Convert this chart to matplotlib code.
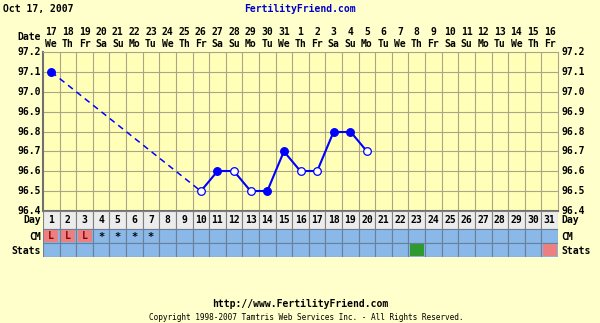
import matplotlib.pyplot as plt
from matplotlib.patches import Rectangle

# chart data
cycle_days = list(range(1, 32))
date_nums = [17, 18, 19, 20, 21, 22, 23, 24, 25, 26, 27, 28, 29, 30, 31,
             1, 2, 3, 4, 5, 6, 7, 8, 9, 10, 11, 12, 13, 14, 15, 16]
weekdays = ["We", "Th", "Fr", "Sa", "Su", "Mo", "Tu", "We", "Th", "Fr", "Sa",
            "Su", "Mo", "Tu", "We", "Th", "Fr", "Sa", "Su", "Mo", "Tu", "We",
            "Th", "Fr", "Sa", "Su", "Mo", "Tu", "We", "Th", "Fr"]
temp_days = [1, 10, 11, 12, 13, 14, 15, 16, 17, 18, 19, 20]
temps = [97.1, 96.5, 96.6, 96.6, 96.5, 96.5, 96.7, 96.6, 96.6, 96.8, 96.8, 96.7]
filled = [True, False, True, False, False, True, True, False, False, True, True, False]
cm_marks = ["L", "L", "L", "*", "*", "*", "*"]
stats_green = [23]
stats_pink = [31]
y_ticks = [96.4, 96.5, 96.6, 96.7, 96.8, 96.9, 97.0, 97.1, 97.2]

W, H = 600, 323
bg = "#ffffcc"
plot_bg = "#ffffb8"
grid_c = "#aaa488"
blue = "#0000ff"
row_blue = "#8ab8e8"
pink = "#ec8080"
mono = "DejaVu Sans Mono"
fs = 7

fig = plt.figure(figsize=(W / 100, H / 100), dpi=100, facecolor=bg)

x0, x1 = 43, 558
y_top, y_bot = 52, 211
ax = fig.add_axes([x0 / W, 1 - y_bot / H, (x1 - x0) / W, (y_bot - y_top) / H])
ax.set_facecolor(plot_bg)
ax.set_xlim(0.5, 31.5)
ax.set_ylim(96.4, 97.2)
for d in range(1, 31):
    ax.axvline(d + 0.5, color=grid_c, lw=0.8, zorder=1)
for t in y_ticks[1:-1]:
    ax.axhline(t, color=grid_c, lw=0.8, zorder=1)
ax.set_xticks([])
ax.set_yticks([])
for s in ax.spines.values():
    s.set_color(grid_c)
ax.spines["left"].set_color("#707070")
ax.spines["left"].set_linewidth(1.5)
ax.spines["bottom"].set_color("#707070")
ax.spines["bottom"].set_linewidth(1.5)

# lines: dashed across gaps, solid on consecutive days
for i in range(len(temp_days) - 1):
    xs = temp_days[i:i + 2]
    ys = temps[i:i + 2]
    style = "-" if xs[1] - xs[0] == 1 else (0, (4, 3))
    lw = 1.5 if style == "-" else 1.1
    ax.plot(xs, ys, color=blue, lw=lw, ls=style, zorder=2)
for d, t, f in zip(temp_days, temps, filled):
    ax.plot(d, t, "o", ms=5.5, mec=blue, mfc=blue if f else "white", mew=0.9, zorder=3)

# tick labels
for t in y_ticks:
    yp = y_bot - (t - 96.4) / 0.8 * (y_bot - y_top)
    fig.text(41 / W, 1 - yp / H, f"{t:.1f}", ha="right", va="center",
             family=mono, weight="bold", fontsize=fs)
    fig.text(561 / W, 1 - yp / H, f"{t:.1f}", ha="left", va="center",
             family=mono, weight="bold", fontsize=fs)

col_w = (x1 - x0) / 31
for i, (n, wd) in enumerate(zip(date_nums, weekdays)):
    xc = x0 + (i + 0.5) * col_w
    fig.text(xc / W, 1 - 32 / H, str(n), ha="center", va="center",
             family=mono, weight="bold", fontsize=fs)
    fig.text(xc / W, 1 - 44 / H, wd, ha="center", va="center",
             family=mono, weight="bold", fontsize=fs)
fig.text(41 / W, 1 - 37 / H, "Date", ha="right", va="center",
         family=mono, weight="bold", fontsize=fs)

# lower table: Day / CM / Stats rows
tb = fig.add_axes([x0 / W, 1 - 257 / H, (x1 - x0) / W, (257 - y_bot) / H])
tb.set_xlim(0.5, 31.5)
tb.set_ylim(0, 3.3)
tb.axis("off")
row_y = {"Day": (2.0, 1.3), "CM": (1.0, 1.0), "Stats": (0.0, 1.0)}
for d in cycle_days:
    y, h = row_y["Day"]
    tb.add_patch(Rectangle((d - 0.5, y), 1, h, fc="#ececec", ec="#808080", lw=0.8))
    tb.text(d, y + h / 2, str(d), ha="center", va="center",
            family=mono, weight="bold", fontsize=fs)
    for row in ["CM", "Stats"]:
        y, h = row_y[row]
        tb.add_patch(Rectangle((d - 0.5, y), 1, h, fc=row_blue, ec="#6a7f98", lw=0.8))
for i, m in enumerate(cm_marks):
    d = i + 1
    y, h = row_y["CM"]
    if m == "L":
        tb.add_patch(Rectangle((d - 0.5 + 0.08, y + 0.08), 0.84, h - 0.16, fc=pink, ec="none"))
        tb.text(d, y + h / 2, "L", ha="center", va="center", color="#8b0000",
                family=mono, weight="bold", fontsize=fs)
    else:
        tb.text(d, y + h / 2 - 0.1, "*", ha="center", va="center",
                family=mono, weight="bold", fontsize=fs + 0.5)
for d in stats_green:
    y, h = row_y["Stats"]
    tb.add_patch(Rectangle((d - 0.5 + 0.08, y + 0.08), 0.84, h - 0.16, fc="#2f9a2f", ec="none"))
for d in stats_pink:
    y, h = row_y["Stats"]
    tb.add_patch(Rectangle((d - 0.5 + 0.08, y + 0.08), 0.84, h - 0.16, fc=pink, ec="none"))

for name, yp in [("Day", 220), ("CM", 237), ("Stats", 251)]:
    fig.text(41 / W, 1 - yp / H, name, ha="right", va="center",
             family=mono, weight="bold", fontsize=fs)
    fig.text(561 / W, 1 - yp / H, name, ha="left", va="center",
             family=mono, weight="bold", fontsize=fs)

# titles and footer
fig.text(3 / W, 1 - 9 / H, "Oct 17, 2007", ha="left", va="center",
         family=mono, weight="bold", fontsize=fs)
fig.text(300 / W, 1 - 9 / H, "FertilityFriend.com", ha="center", va="center",
         family=mono, weight="bold", fontsize=fs, color="#0000cc")
fig.text(300 / W, 1 - 304 / H, "http://www.FertilityFriend.com", ha="center", va="center",
         family=mono, weight="bold", fontsize=fs)
fig.text(306 / W, 1 - 317 / H,
         "Copyright 1998-2007 Tamtris Web Services Inc. - All Rights Reserved.",
         ha="center", va="center", family=mono, fontsize=5.6)

fig.savefig("out.png", dpi=100, facecolor=bg)
